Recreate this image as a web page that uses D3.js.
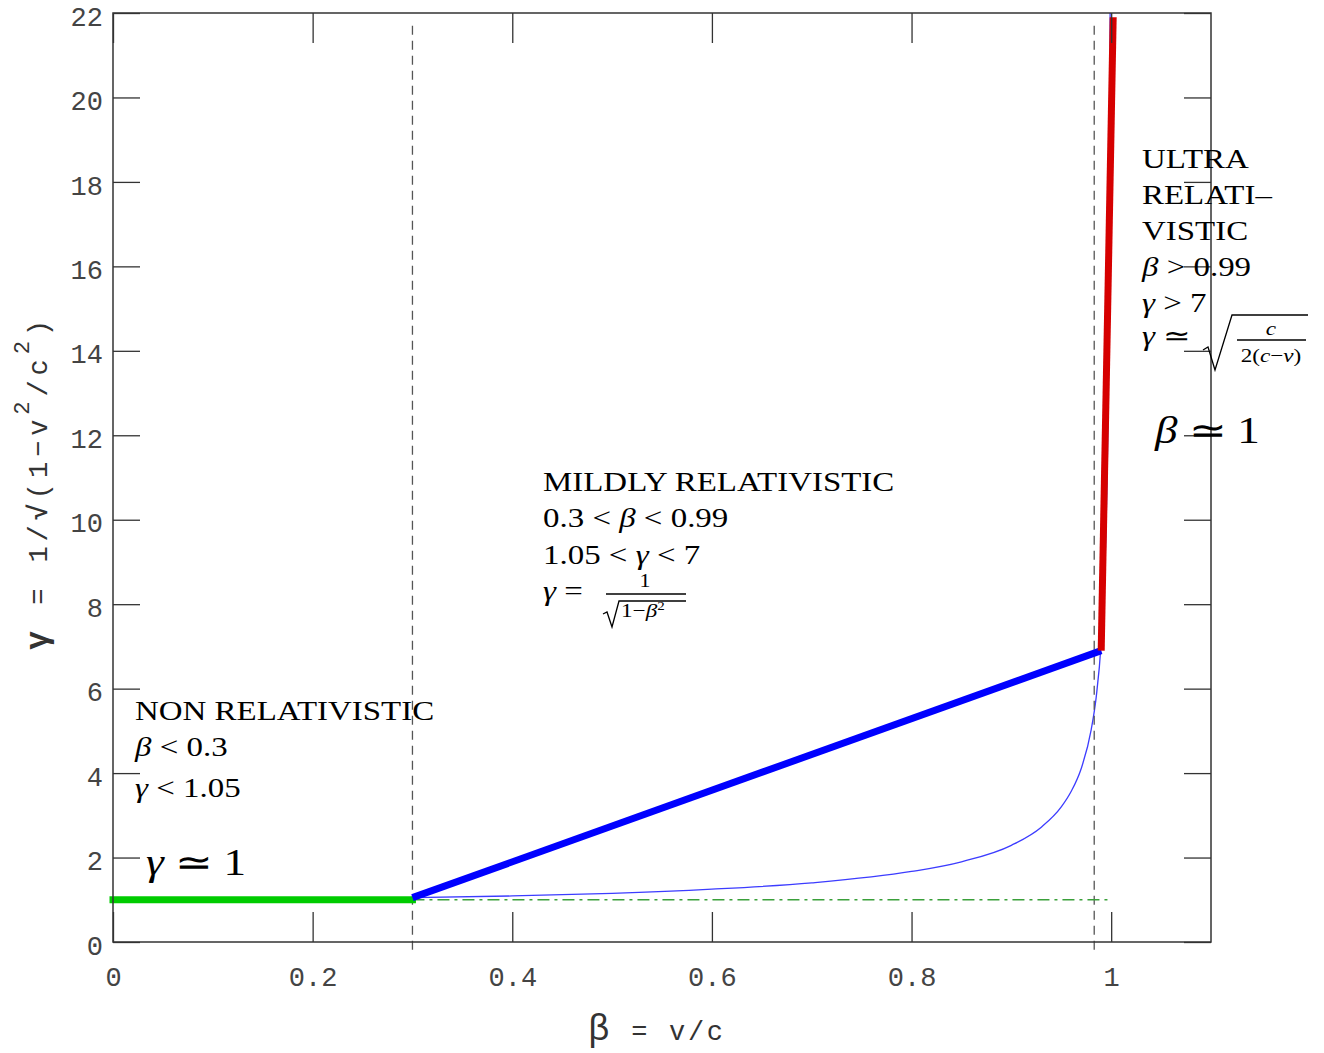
<!DOCTYPE html>
<html>
<head>
<meta charset="utf-8">
<script src="https://cdn.jsdelivr.net/npm/d3@7"></script>
<style>
	body { margin: 0; background: #fff; }
	svg { display: block; }
	.tick text { font-family: 'Liberation Mono', monospace; font-size: 27px; fill: #444; }
	.tick line { stroke: #333; stroke-width: 1.3; }
	.note { font-family: 'Liberation Serif', serif; fill: #000; white-space: pre; }
	.axlabel { font-family: 'Liberation Mono', monospace; font-size: 27px; fill: #333; white-space: pre; }
</style>
</head>
<body>
<svg id="chart" width="1324" height="1053"></svg>
<script>
var X_TICKS = [0, 0.2, 0.4, 0.6, 0.8, 1];
var Y_TICKS = [0, 2, 4, 6, 8, 10, 12, 14, 16, 18, 20, 22];

// thick regime segments (beta, gamma)
var NONREL_BETA = [0, 0.3];
var NONREL_GAMMA = [1, 1];
var MILD_BETA = [0.3, 0.99];
var MILD_GAMMA = [1.05, 6.9];
var ULTRA_BETA = [0.99, 1.002];
var ULTRA_GAMMA = [6.9, 21.9];

// thin lorentz factor curve
var CURVE_BETA = [0.3, 0.4, 0.5, 0.6, 0.7, 0.8, 0.85, 0.9, 0.93, 0.95, 0.96, 0.97, 0.98, 0.985, 0.99, 0.993, 0.995, 0.997, 0.998, 0.999];
var CURVE_GAMMA = [1.05, 1.09, 1.15, 1.25, 1.4, 1.67, 1.9, 2.29, 2.72, 3.2, 3.57, 4.11, 5.03, 5.8, 7.09, 8.46, 10.0, 12.9, 15.8, 22.4];

// dashed regime borders and the gamma = 1 reference
var LIMIT_BETA = [0.3, 0.983];
var LIMIT_GAMMA = [-0.2, 21.7];
var REST_BETA = [0.3, 1];
var REST_GAMMA = [1, 1];

RELPLOT = {
	SX: 1.22,

	init: function() {
		var svg = d3.select('#chart');
		var left = 113, right = 1211, top = 13, bottom = 942;

		var x = d3.scaleLinear().domain([0, 1.1]).range([left, right]);
		var y = d3.scaleLinear().domain([0, 22]).range([bottom, top]);

		var zip = function(xs, ys) {
			return xs.map(function(v, i) { return [v, ys[i]]; });
		};
		var line = d3.line()
			.x(function(d) { return x(d[0]); })
			.y(function(d) { return y(d[1]); });

		svg.append('clipPath').attr('id', 'plotclip')
			.append('rect')
			.attr('x', left).attr('y', top)
			.attr('width', right - left).attr('height', bottom - top);

		// thin curve
		svg.append('path')
			.datum(zip(CURVE_BETA, CURVE_GAMMA))
			.attr('clip-path', 'url(#plotclip)')
			.attr('fill', 'none')
			.attr('stroke', '#3c3cff')
			.attr('stroke-width', 1.3)
			.attr('d', line.curve(d3.curveMonotoneX));
		line.curve(d3.curveLinear);

		// dashed borders
		svg.selectAll('line.limit')
			.data(LIMIT_BETA)
			.enter()
			.append('line')
			.attr('class', 'limit')
			.attr('x1', function(d) { return x(d); })
			.attr('x2', function(d) { return x(d); })
			.attr('y1', y(LIMIT_GAMMA[1]))
			.attr('y2', y(LIMIT_GAMMA[0]))
			.attr('stroke', '#555')
			.attr('stroke-width', 1.3)
			.attr('stroke-dasharray', '9,6');

		svg.append('path')
			.datum(zip(REST_BETA, REST_GAMMA))
			.attr('fill', 'none')
			.attr('stroke', '#3aa03a')
			.attr('stroke-width', 1.3)
			.attr('stroke-dasharray', '12,5,3,5')
			.attr('d', line);

		var thick = [
			[NONREL_BETA, NONREL_GAMMA, '#00cc00', 'square'],
			[MILD_BETA, MILD_GAMMA, '#0000ff', 'butt'],
			[ULTRA_BETA, ULTRA_GAMMA, '#d60000', 'butt']
		];
		thick.forEach(function(t) {
			svg.append('path')
				.datum(zip(t[0], t[1]))
				.attr('fill', 'none')
				.attr('stroke', t[2])
				.attr('stroke-width', 7)
				.attr('stroke-linecap', t[3])
				.attr('d', line);
		});

		// frame and ticks
		svg.append('rect')
			.attr('x', left).attr('y', top)
			.attr('width', right - left).attr('height', bottom - top)
			.attr('fill', 'none')
			.attr('stroke', '#333')
			.attr('stroke-width', 1.5);

		var fmt = d3.format('~g');
		svg.append('g')
			.attr('transform', 'translate(0,' + bottom + ')')
			.call(d3.axisBottom(x).tickValues(X_TICKS).tickFormat(fmt).tickSize(-30).tickSizeOuter(0).tickPadding(25))
			.call(function(g) { g.select('.domain').remove(); });
		svg.append('g')
			.attr('transform', 'translate(0,' + top + ')')
			.call(d3.axisTop(x).tickValues(X_TICKS).tickFormat('').tickSize(-30).tickSizeOuter(0))
			.call(function(g) { g.select('.domain').remove(); });
		svg.append('g')
			.attr('transform', 'translate(' + left + ',0)')
			.call(d3.axisLeft(y).tickValues(Y_TICKS).tickSize(-27).tickSizeOuter(0).tickPadding(10))
			.call(function(g) {
				g.select('.domain').remove();
				g.selectAll('text').attr('dy', '0.45em');
			});
		svg.append('g')
			.attr('transform', 'translate(' + right + ',0)')
			.call(d3.axisRight(y).tickValues(Y_TICKS).tickFormat('').tickSize(-27).tickSizeOuter(0))
			.call(function(g) { g.select('.domain').remove(); });

		// axis titles
		var xl = svg.append('text')
			.attr('class', 'axlabel')
			.attr('x', 588).attr('y', 1040)
			.attr('textLength', 135)
			.attr('lengthAdjust', 'spacing');
		xl.append('tspan').style('font-size', '36px').text('β');
		xl.append('tspan').text(' = v/c');

		var yl = svg.append('text')
			.attr('class', 'axlabel')
			.attr('transform', 'translate(47,485) rotate(-90)')
			.attr('text-anchor', 'middle')
			.attr('textLength', 330)
			.attr('lengthAdjust', 'spacing');
		yl.append('tspan').style('font-weight', 'bold').style('font-size', '32px').text('γ');
		yl.append('tspan').text(' = 1/');
		yl.append('tspan').style('font-weight', 'bold').text('√');
		yl.append('tspan').text('(1−v');
		yl.append('tspan').attr('dy', -18).style('font-size', '22px').text('2');
		yl.append('tspan').attr('dy', 18).text('/c');
		yl.append('tspan').attr('dy', -18).style('font-size', '22px').text('2');
		yl.append('tspan').attr('dy', 18).text(')');

		// annotations
		var note = function(px, py, size, parts, anchor) {
			var t = svg.append('text')
				.attr('class', 'note')
				.attr('transform', 'translate(' + px + ',' + py + ') scale(' + RELPLOT.SX + ',1)')
				.attr('text-anchor', anchor || 'start')
				.style('font-size', size + 'px');
			parts.forEach(function(p) {
				var s = t.append('tspan').text(p[0]);
				if (p[1] === 1) s.style('font-style', 'italic');
				if (p[1] === 2) s.attr('dy', -7).style('font-size', (size * 0.65) + 'px');
			});
			return t;
		};
		var stroke = function(d) {
			svg.append('path')
				.attr('d', d)
				.attr('fill', 'none')
				.attr('stroke', '#000')
				.attr('stroke-width', 1.3);
		};

		note(135, 720, 27, [['NON RELATIVISTIC']]);
		note(135, 756, 27, [['β', 1], [' < 0.3']]);
		note(135, 797, 27, [['γ', 1], [' < 1.05']]);
		note(146, 875, 37, [['γ', 1], [' ≃ 1']]);

		note(543, 491, 27, [['MILDLY RELATIVISTIC']]);
		note(543, 527, 27, [['0.3 < '], ['β', 1], [' < 0.99']]);
		note(543, 564, 27, [['1.05 < '], ['γ', 1], [' < 7']]);
		note(543, 600, 27, [['γ', 1], [' =']]);
		note(645, 587, 18, [['1']], 'middle');
		stroke('M606,594 L686,594');
		stroke('M603,614 L607,612 L612,627 L619,601 L686,601');
		note(621, 617, 19, [['1−'], ['β', 1], ['2', 2]]);

		note(1142, 168, 27, [['ULTRA']]);
		note(1142, 204, 27, [['RELATI–']]);
		note(1142, 240, 27, [['VISTIC']]);
		note(1142, 276, 27, [['β', 1], [' > 0.99']]);
		note(1142, 312, 27, [['γ', 1], [' > 7']]);
		note(1142, 345, 27, [['γ', 1], [' ≃']]);
		stroke('M1203,350 L1208,347 L1215,370 L1232,315 L1308,315');
		note(1271, 335, 19, [['c', 1]], 'middle');
		stroke('M1237,340 L1306,340');
		note(1271, 362, 19, [['2('], ['c', 1], ['−'], ['v', 1], [')']], 'middle');
		note(1155, 443, 37, [['β', 1], [' ≃ 1']]);
	}
};

RELPLOT.init();
</script>
</body>
</html>
